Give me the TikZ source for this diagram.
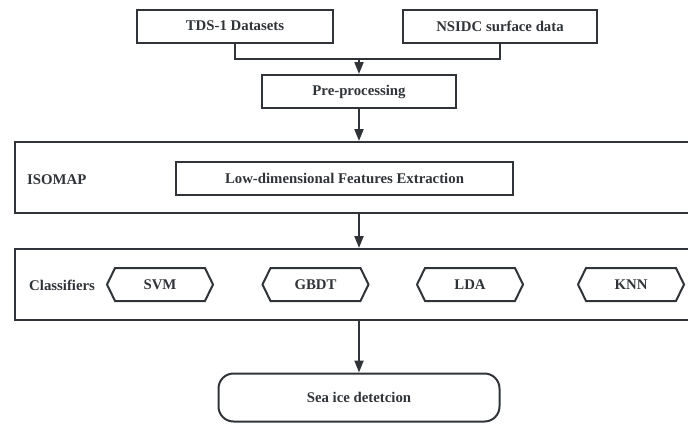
\documentclass[tikz,border=0pt]{standalone}
\usepackage{fontspec}
\setmainfont{Liberation Serif}
\usetikzlibrary{positioning, calc, arrows.meta, shapes.symbols}
\definecolor{linegray}{HTML}{303438}
\tikzset{>={Triangle[width=9pt,length=12pt]}}
\tikzset{
    box/.style={draw=linegray, line width=2pt, rectangle, minimum height=33pt, inner sep=0pt, text=linegray, font=\fontsize{14.8}{17}\selectfont\bfseries},
    bigbox/.style={draw=linegray, line width=2pt, rectangle, minimum width=690pt, minimum height=71pt, inner sep=0pt},
    hexbox/.style={box, signal, signal to=west and east, signal pointer angle=128, minimum width=106pt},
    endbox/.style={box, rounded corners=15pt, minimum width=281pt, minimum height=48pt},
    tag/.style={text=linegray, inner sep=0pt, font=\fontsize{14.8}{17}\selectfont\bfseries},
    link/.style={draw=linegray, line width=2pt}
}

\begin{document}
\begin{tikzpicture}[x=1pt, y=-1pt]
    \useasboundingbox (0,0) rectangle (688,423);
    % inputs
    \node[box, minimum width=196pt] (tds) at (235,26) {TDS-1 Datasets};
    \node[box, minimum width=194pt] (nsidc) at (500,26) {NSIDC surface data};
    \node[box, minimum width=194pt] (pre) at (359,91.5) {Pre-processing};
    % feature extraction stage
    \node[bigbox] (iso) at (360,177.5) {};
    \node[tag, anchor=west] (isolabel) at (27,180) {ISOMAP};
    \node[box, minimum width=337pt] (lowdim) at (344.5,178.5) {Low-dimensional Features Extraction};
    % classification stage
    \node[bigbox] (cls) at (360,284.5) {};
    \node[tag, anchor=west] (clslabel) at (29,285) {Classifiers};
    \node[hexbox] (svm) at (160,284.5) {SVM};
    \node[hexbox] (gbdt) at (315.5,284.5) {GBDT};
    \node[hexbox] (lda) at (470,284.5) {LDA};
    \node[hexbox] (knn) at (631,284.5) {KNN};
    % output
    \node[endbox] (sea) at (359,397.5) {Sea ice detetcion};
    \coordinate (join) at (pre.north |- 0,59);
    \draw[link] (tds.south) |- (join);
    \draw[link] (nsidc.south) |- (join);
    \draw[link, ->] (join) -- (pre.north);
    \draw[link, ->] (pre.south) -- (pre.south |- iso.north);
    \draw[link, ->] (iso.south -| pre) -- (cls.north -| pre);
    \draw[link, ->] (cls.south -| sea) -- (sea.north);
\end{tikzpicture}
\end{document}
